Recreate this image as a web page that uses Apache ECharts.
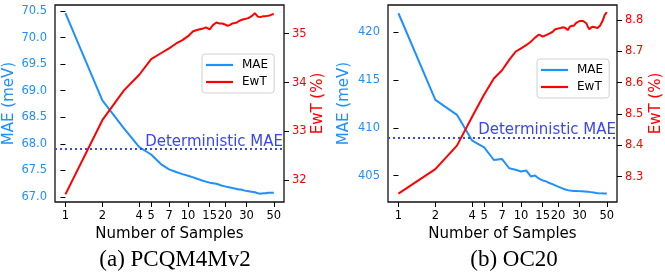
<!DOCTYPE html>
<html><head><meta charset="utf-8">
<script src="https://cdn.jsdelivr.net/npm/echarts@6/dist/echarts.min.js"></script>
<style>html,body{margin:0;padding:0;background:#fff}#c{width:665px;height:274px}</style>
</head><body><div id="c"></div>
<script>
const samples = [1,2,3,4,5,6,7,8,9,10,11,12,13,14,15,16,17,18,19,20,21,22,23,24,25,26,27,28,29,30,31,32,33,34,35,36,37,38,39,40,41,42,43,44,45,46,47,48,49,50];
const xTickLabels = [1,2,4,5,7,10,15,20,30,50];

const pcqMAE = [70.46,68.82,68.29,67.94,67.80,67.62,67.52,67.47,67.43,67.40,67.37,67.34,67.31,67.29,67.27,67.26,67.25,67.23,67.21,67.20,67.19,67.18,67.17,67.16,67.15,67.14,67.14,67.13,67.12,67.12,67.11,67.11,67.10,67.10,67.09,67.08,67.07,67.06,67.06,67.06,67.07,67.07,67.07,67.08,67.08,67.08,67.08,67.08,67.08,67.08];
const pcqEwT = [31.71,33.23,33.84,34.16,34.48,34.60,34.70,34.80,34.87,34.95,35.05,35.08,35.10,35.13,35.09,35.18,35.23,35.21,35.21,35.19,35.16,35.18,35.21,35.22,35.23,35.26,35.28,35.29,35.30,35.31,35.32,35.34,35.36,35.39,35.42,35.39,35.35,35.31,35.34,35.35,35.36,35.37,35.36,35.37,35.37,35.38,35.38,35.39,35.40,35.40];
const pcqDetMAE = 67.90;
const pcqMAETicks = [67.0,67.5,68.0,68.5,69.0,69.5,70.0,70.5];
const pcqEwTTicks = [32,33,34,35];

const ocMAE = [421.95,412.92,411.35,408.65,407.95,406.64,406.74,405.78,405.63,405.45,405.55,404.93,405.03,404.69,404.51,404.41,404.24,404.12,403.99,403.87,403.76,403.65,403.57,403.50,403.46,403.44,403.42,403.41,403.40,403.40,403.39,403.38,403.36,403.35,403.33,403.31,403.29,403.27,403.25,403.23,403.21,403.20,403.18,403.17,403.16,403.15,403.15,403.15,403.15,403.15];
const ocEwT = [8.246,8.324,8.399,8.492,8.562,8.613,8.639,8.672,8.698,8.709,8.719,8.730,8.743,8.753,8.746,8.751,8.756,8.761,8.770,8.772,8.774,8.776,8.774,8.767,8.778,8.781,8.781,8.789,8.795,8.796,8.798,8.796,8.795,8.789,8.778,8.770,8.776,8.778,8.774,8.776,8.778,8.774,8.776,8.781,8.785,8.795,8.804,8.815,8.820,8.824];
const ocDetMAE = 408.93;
const ocMAETicks = [405,410,415,420];
const ocEwTTicks = [8.3,8.4,8.5,8.6,8.7,8.8];

const captions = ['(a) PCQM4Mv2', '(b) OC20'];

const BLUE = '#1e90ff', RED = '#ff0000', DET = '#3a46f2';
const FONT = 'DejaVu Sans';
const lg = v => Math.log10(v);
const pts = arr => samples.map((n, i) => [lg(n), arr[i]]);

function xAxis(gi){
  return {
    type:'value', gridIndex:gi, min:-0.085, max:1.782,
    axisLine:{show:false}, splitLine:{show:false},
    axisTick:{show:true, length:5, lineStyle:{color:'#000', width:1}, customValues: xTickLabels.map(lg)},
    axisLabel:{customValues: xTickLabels.map(lg), formatter: v => String(Math.round(Math.pow(10, v))), color:'#000', fontSize:11.5, fontFamily:FONT, margin:8},
    name:'Number of Samples', nameLocation:'middle', nameGap:22,
    nameTextStyle:{color:'#000', fontSize:15, fontFamily:FONT}
  };
}
function yAxis(gi, pos, min, max, ticks, dec, name, color, gap){
  return {
    type:'value', gridIndex:gi, position:pos, min:min, max:max,
    axisLine:{show:false}, splitLine:{show:false},
    axisTick:{show:true, length:5, lineStyle:{color:'#000', width:1}, customValues: ticks},
    axisLabel:{customValues: ticks, formatter: v => v.toFixed(dec), color:color, fontSize:11.5, fontFamily:FONT, margin:8},
    name:name, nameLocation:'middle', nameRotate:90, nameGap:gap,
    nameTextStyle:{color:color, fontSize:15, fontFamily:FONT}
  };
}
function detLine(val){
  return {
    symbol:'none', silent:true,
    lineStyle:{type:[2,3], width:2, color:DET},
    label:{show:true, position:'insideEndTop', formatter:'Deterministic MAE', color:DET, fontSize:15, fontFamily:FONT, distance:[1,0]},
    data:[{yAxis:val}]
  };
}
function legend(left, top){
  return {
    orient:'vertical', left:left, top:top, itemWidth:27, itemHeight:2.2, itemGap:5, icon:'rect',
    padding:[5,6,5,4], borderColor:'#d0d0d0', borderWidth:1, borderRadius:3, backgroundColor:'rgba(255,255,255,0.85)',
    textStyle:{color:'#000', fontSize:12, fontFamily:FONT, padding:[0,0,0,4]},
    data:['MAE','EwT']
  };
}

const chart = echarts.init(document.getElementById('c'), null, {renderer:'canvas'});
chart.setOption({
  animation:false,
  textStyle:{fontFamily:FONT},
  grid:[
    {left:55, top:5, right:381, bottom:72, show:true, borderColor:'#111', borderWidth:1.3, backgroundColor:'transparent'},
    {left:388, top:5, right:48, bottom:72, show:true, borderColor:'#111', borderWidth:1.3, backgroundColor:'transparent'}
  ],
  xAxis:[xAxis(0), xAxis(1)],
  yAxis:[
    yAxis(0,'left',66.906,70.613,pcqMAETicks,1,'MAE (meV)',BLUE,38),
    yAxis(0,'right',31.555,35.588,pcqEwTTicks,0,'EwT (%)',RED,26),
    yAxis(1,'left',402.26,422.81,ocMAETicks,0,'MAE (meV)',BLUE,36),
    yAxis(1,'right',8.2194,8.847,ocEwTTicks,1,'EwT (%)',RED,32)
  ],
  legend:[legend(202,54), legend(537,59)],
  series:[
    {name:'MAE', type:'line', xAxisIndex:0, yAxisIndex:0, data:pts(pcqMAE), symbol:'none', lineStyle:{width:2, color:BLUE}, itemStyle:{color:BLUE}, markLine:detLine(pcqDetMAE), z:2},
    {name:'EwT', type:'line', xAxisIndex:0, yAxisIndex:1, data:pts(pcqEwT), symbol:'none', lineStyle:{width:2, color:RED}, itemStyle:{color:RED}, z:3},
    {name:'MAE', type:'line', xAxisIndex:1, yAxisIndex:2, data:pts(ocMAE), symbol:'none', lineStyle:{width:2, color:BLUE}, itemStyle:{color:BLUE}, markLine:detLine(ocDetMAE), z:2},
    {name:'EwT', type:'line', xAxisIndex:1, yAxisIndex:3, data:pts(ocEwT), symbol:'none', lineStyle:{width:2, color:RED}, itemStyle:{color:RED}, z:3}
  ],
  title:[
    {text:captions[0], left:170, top:243, textAlign:'center', textStyle:{fontFamily:'Liberation Serif', fontSize:23, fontWeight:'normal', color:'#000'}},
    {text:captions[1], left:509, top:243, textAlign:'center', textStyle:{fontFamily:'Liberation Serif', fontSize:23, fontWeight:'normal', color:'#000'}}
  ]
});
</script>
</body></html>
